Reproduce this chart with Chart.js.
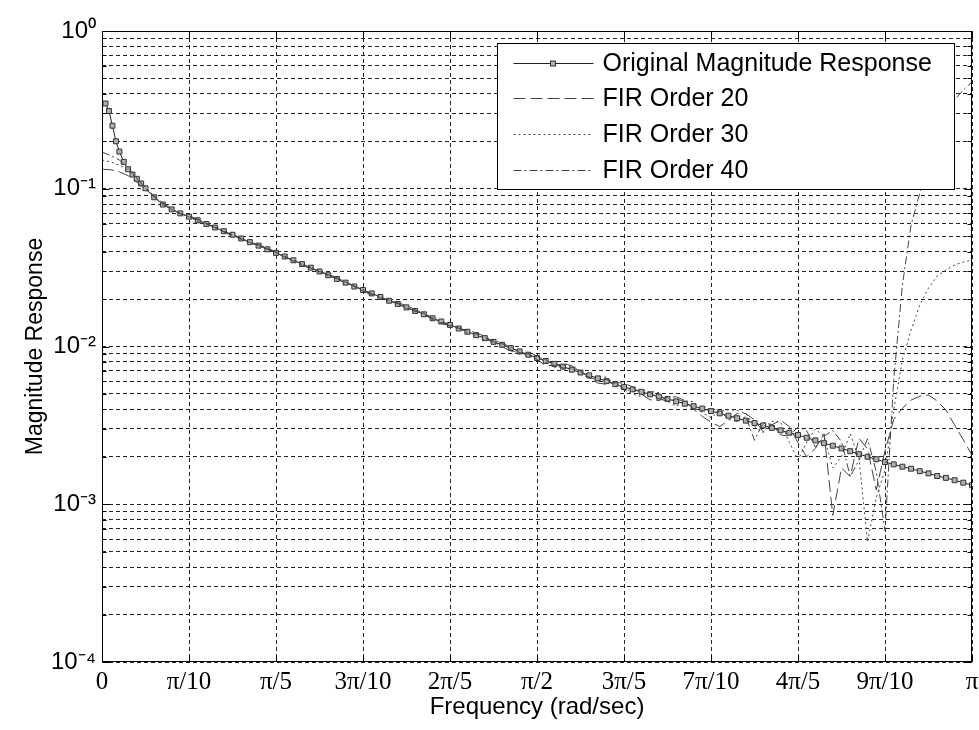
<!DOCTYPE html>
<html><head><meta charset="utf-8">
<script src="https://cdn.jsdelivr.net/npm/chart.js@4.4.1/dist/chart.umd.min.js"></script>
<style>html,body{margin:0;padding:0;background:#fff;}#wrap{width:979px;height:730px;}</style>
</head><body><div id="wrap"><canvas id="c" width="979" height="730"></canvas></div>
<script>
// ---------- data ----------
const seriesNames = ['Original Magnitude Response','FIR Order 20','FIR Order 30','FIR Order 40'];
const xTickFractions = [0,0.1,0.2,0.3,0.4,0.5,0.6,0.7,0.8,0.9,1.0]; // multiples of pi
const xTickLabels = ['0','\u03c0/10','\u03c0/5','3\u03c0/10','2\u03c0/5','\u03c0/2','3\u03c0/5','7\u03c0/10','4\u03c0/5','9\u03c0/10','\u03c0'];
const yMajorTicks = [1e-4,1e-3,1e-2,1e-1,1];
const yTickLabels = ['10\u207b\u2074','10\u207b\u00b3','10\u207b\u00b2','10\u207b\u00b9','10\u2070'];
const yMinorMultipliers = [2,3,4,5,6,7,8,9];
const xAxisTitle = 'Frequency (rad/sec)';
const yAxisTitle = 'Magnitude Response';

// frequencies in units of pi
const origFreq = [0.004,0.008,0.012,0.016,0.02,0.025,0.03,0.035,0.04,0.045,0.05,0.06,0.07,0.08,0.09,
0.10,0.11,0.12,0.13,0.14,0.15,0.16,0.17,0.18,0.19,
0.20,0.21,0.22,0.23,0.24,0.25,0.26,0.27,0.28,0.29,
0.30,0.31,0.32,0.33,0.34,0.35,0.36,0.37,0.38,0.39,
0.40,0.41,0.42,0.43,0.44,0.45,0.46,0.47,0.48,0.49,
0.50,0.51,0.52,0.53,0.54,0.55,0.56,0.57,0.58,0.59,
0.60,0.61,0.62,0.63,0.64,0.65,0.66,0.67,0.68,0.69,
0.70,0.71,0.72,0.73,0.74,0.75,0.76,0.77,0.78,0.79,
0.80,0.81,0.82,0.83,0.84,0.85,0.86,0.87,0.88,0.89,
0.90,0.91,0.92,0.93,0.94,0.95,0.96,0.97,0.98,0.99,1.00];
const origMag = [0.347,0.311,0.251,0.200,0.172,0.148,0.133,0.123,0.1156,0.108,0.1007,0.0883,0.0794,0.0740,0.0698,
0.0665,0.0631,0.0598,0.0568,0.0538,0.0511,0.0484,0.0459,0.0436,0.0413,
0.0392,0.0372,0.0352,0.0333,0.0316,0.0299,0.0283,0.0268,0.0254,0.0240,
0.0228,0.0217,0.0206,0.0195,0.0186,0.0177,0.0168,0.0160,0.0151,0.0144,
0.0137,0.0130,0.0124,0.0118,0.0113,0.0107,0.01025,0.00977,0.00931,0.00887,
0.00845,0.00810,0.00776,0.00745,0.00713,0.00684,0.00656,0.00628,0.00603,0.00577,
0.00553,0.00535,0.00516,0.00498,0.00481,0.00465,0.00449,0.00434,0.00418,0.00404,
0.00390,0.00377,0.00364,0.00351,0.00339,0.00327,0.00316,0.00305,0.00294,0.00284,
0.00275,0.00264,0.00254,0.00244,0.00235,0.00226,0.00217,0.00208,0.00200,0.00193,
0.00185,0.00179,0.00173,0.00168,0.00162,0.00157,0.00151,0.00147,0.00142,0.00137,0.00132];

const firFreq = [0.00,0.01,0.02,0.03,0.04,0.05,0.06,0.07,0.08,0.09,
0.10,0.11,0.12,0.13,0.14,0.15,0.16,0.17,0.18,0.19,
0.20,0.21,0.22,0.23,0.24,0.25,0.26,0.27,0.28,0.29,
0.30,0.31,0.32,0.33,0.34,0.35,0.36,0.37,0.38,0.39,
0.40,0.41,0.42,0.43,0.44,0.45,0.46,0.47,0.48,0.49,
0.50,0.51,0.52,0.53,0.54,0.55,0.56,0.57,0.58,0.59,
0.60,0.61,0.62,0.63,0.64,0.65,0.66,0.67,0.68,0.69,
0.70,0.71,0.72,0.73,0.74,0.75,0.76,0.77,0.78,0.79,
0.80,0.81,0.82,0.83,0.84,0.85,0.86,0.87,0.88,0.89,
0.90,0.91,0.92,0.93,0.94,0.95,0.96,0.97,0.98,0.99,1.00];

const fir20 = [0.133,0.132,0.128,0.121,0.110,0.0989,0.0899,0.0813,0.0745,0.0695,
0.0673,0.0643,0.0605,0.0568,0.0532,0.0502,0.0478,0.0459,0.0441,0.0421,
0.0397,0.0372,0.0347,0.0326,0.0312,0.0299,0.0287,0.0273,0.0257,0.0240,
0.0224,0.0212,0.0203,0.0195,0.0189,0.0182,0.0171,0.0160,0.0148,0.0140,
0.0135,0.0130,0.0127,0.0122,0.0116,0.0107,0.00997,0.00937,0.00910,0.00897,
0.00826,0.00756,0.00758,0.00780,0.00755,0.00700,0.00634,0.00586,0.00576,0.00590,
0.00586,0.00554,0.00498,0.00459,0.00454,0.00476,0.00481,0.00454,0.00399,0.00360,
0.00332,0.00310,0.00341,0.00376,0.00376,0.00342,0.00288,0.00319,0.00341,0.00311,
0.00245,0.00200,0.00226,0.00280,0.00085,0.00170,0.00150,0.00262,0.00224,0.00123,
0.00218,0.00344,0.00406,0.00458,0.00484,0.00493,0.00451,0.00396,0.00318,0.00256,0.00205];

const fir30 = [0.152,0.148,0.141,0.132,0.1156,0.102,0.0891,0.0800,0.0736,0.0698,
0.0662,0.0625,0.0596,0.0571,0.0543,0.0512,0.0481,0.0456,0.0437,0.0417,
0.0393,0.0369,0.0350,0.0335,0.0319,0.0298,0.0280,0.0268,0.0257,0.0242,
0.0226,0.0215,0.0208,0.0198,0.0185,0.0174,0.0169,0.0163,0.0152,0.0141,
0.0136,0.0133,0.0126,0.0115,0.0110,0.0109,0.01055,0.00957,0.00894,0.00905,
0.00879,0.00794,0.00737,0.00760,0.00749,0.00677,0.00623,0.00647,0.00639,0.00566,
0.00531,0.00499,0.00481,0.00518,0.00510,0.00451,0.00417,0.00451,0.00447,0.00380,
0.00355,0.00388,0.00397,0.00394,0.00376,0.00311,0.00284,0.00336,0.00332,0.00247,
0.00190,0.00248,0.00300,0.00268,0.00170,0.00200,0.00280,0.00195,0.00058,0.00110,
0.00165,0.00396,0.0082,0.0127,0.0183,0.0235,0.0280,0.0305,0.0329,0.0343,0.0353];

const fir40 = [0.171,0.162,0.152,0.136,0.117,0.101,0.0887,0.0794,0.0741,0.0695,
0.0660,0.0634,0.0601,0.0566,0.0536,0.0513,0.0486,0.0457,0.0434,0.0415,
0.0394,0.0370,0.0351,0.0335,0.0315,0.0297,0.0285,0.0269,0.0252,0.0241,
0.0230,0.0216,0.0204,0.0197,0.0187,0.0175,0.0167,0.0162,0.0151,0.0142,
0.0139,0.0131,0.0122,0.0120,0.0114,0.0105,0.01040,0.00999,0.00915,0.00870,
0.00863,0.00825,0.00758,0.00730,0.00730,0.00700,0.00640,0.00612,0.00618,0.00590,
0.00538,0.00520,0.00532,0.00510,0.00466,0.00450,0.00465,0.00447,0.00402,0.00392,
0.00405,0.00393,0.00345,0.00335,0.00360,0.00254,0.00330,0.00320,0.00275,0.00270,
0.00310,0.00292,0.00230,0.00270,0.00293,0.00250,0.00150,0.00190,0.00260,0.00160,
0.00068,0.00614,0.0245,0.0589,0.094,0.152,0.219,0.294,0.365,0.423,0.475];

// ---------- chart ----------
const PI = Math.PI;
const SANS = '"Liberation Sans", Arial, sans-serif';
const SERIF = '"Liberation Serif", "Times New Roman", serif';
function pts(freqs, vals){ return freqs.map((f,i)=>({x:f*PI, y:vals[i]})); }

const framePlugin = {
  id:'frame',
  afterDatasetsDraw(chart){
    const {ctx, chartArea:a, scales} = chart;
    ctx.save();
    ctx.setLineDash([]);
    ctx.strokeStyle = '#000';
    ctx.lineWidth = 1;
    const L = Math.round(a.left)+0.5, R = Math.round(a.right)-0.5, T = Math.round(a.top)+0.5, B = Math.round(a.bottom)-0.5;
    ctx.strokeRect(L, T, R-L, B-T);
    ctx.beginPath();
    scales.x.ticks.forEach(t=>{
      const px = Math.round(scales.x.getPixelForValue(t.value))+0.5;
      ctx.moveTo(px,B); ctx.lineTo(px,B-7);
      ctx.moveTo(px,T); ctx.lineTo(px,T+7);
    });
    scales.y.ticks.forEach(t=>{
      const py = Math.round(scales.y.getPixelForValue(t.value))+0.5;
      const len = t.major ? 7 : 4;
      ctx.moveTo(L,py); ctx.lineTo(L+len,py);
      ctx.moveTo(R,py); ctx.lineTo(R-len,py);
    });
    ctx.stroke();
    ctx.restore();
  }
};

const legendPlugin = {
  id:'boxLegend',
  afterDraw(chart){
    const {ctx, chartArea:a} = chart;
    const w = 457, h = 146;
    const x0 = Math.round(a.right - 18 - w)+0.5, y0 = Math.round(a.top + 12)+0.5;
    ctx.save();
    ctx.setLineDash([]);
    ctx.fillStyle = '#fff';
    ctx.fillRect(x0, y0, w, h);
    ctx.strokeStyle = '#000';
    ctx.lineWidth = 1;
    ctx.strokeRect(x0, y0, w, h);
    ctx.font = '25px ' + SANS;
    ctx.textBaseline = 'middle';
    chart.data.datasets.forEach((ds, i)=>{
      const yy = Math.round(y0 + 19 + i*35.7) + 0.5;
      ctx.save();
      ctx.strokeStyle = ds.borderColor;
      ctx.lineWidth = ds.borderWidth;
      ctx.setLineDash(ds.borderDash || []);
      ctx.beginPath(); ctx.moveTo(x0+16, yy); ctx.lineTo(x0+96, yy); ctx.stroke();
      ctx.setLineDash([]);
      if (ds.pointRadius > 0) {
        ctx.fillStyle = ds.pointBackgroundColor;
        ctx.strokeStyle = ds.pointBorderColor;
        ctx.fillRect(x0+53, yy-2.5, 5, 5);
        ctx.strokeRect(x0+53, yy-2.5, 5, 5);
      }
      ctx.restore();
      ctx.fillStyle = '#000';
      ctx.fillText(ds.label, x0 + 105, yy + 1);
    });
    ctx.restore();
  }
};

new Chart(document.getElementById('c'), {
  type:'scatter',
  data:{
    datasets:[
      {label:seriesNames[0], data:pts(origFreq, origMag), showLine:true, borderColor:'#222', borderWidth:1,
       pointStyle:'rect', pointRadius:3.5, pointBorderColor:'#333', pointBackgroundColor:'#b0b0b0', pointBorderWidth:1, order:1},
      {label:seriesNames[1], data:pts(firFreq, fir20), showLine:true, borderColor:'#444', borderWidth:1, borderDash:[12,5], pointRadius:0, order:0},
      {label:seriesNames[2], data:pts(firFreq, fir30), showLine:true, borderColor:'#444', borderWidth:1, borderDash:[2,3], pointRadius:0, order:0},
      {label:seriesNames[3], data:pts(firFreq, fir40), showLine:true, borderColor:'#444', borderWidth:1, borderDash:[8,3,2,3], pointRadius:0, order:0}
    ]
  },
  options:{
    responsive:false, animation:false, devicePixelRatio:1,
    layout:{padding:{top:31, right:7, left:0, bottom:0}},
    plugins:{legend:{display:false}, tooltip:{enabled:false}},
    elements:{line:{tension:0}},
    scales:{
      x:{
        type:'linear', min:0, max:PI,
        afterBuildTicks(s){ s.ticks = xTickFractions.map(f=>({value:f*PI})); },
        afterFit(s){ s.height = 68; s.paddingLeft = 0; s.paddingRight = 0; },
        ticks:{autoSkip:false, maxRotation:0, padding:5, color:'#000', font:{family:SERIF, size:25},
               callback:(v,i)=>xTickLabels[i]},
        grid:{color:'#222', lineWidth:1, drawTicks:false},
        border:{display:false, dash:[4,3]},
        title:{display:true, text:xAxisTitle, color:'#000', font:{family:SANS, size:24}, padding:{top:0, bottom:8}}
      },
      y:{
        type:'logarithmic', min:1e-4, max:1,
        afterBuildTicks(s){
          const t = [];
          yMajorTicks.forEach((m,i)=>{
            t.push({value:m, major:true});
            if (i < yMajorTicks.length-1) yMinorMultipliers.forEach(k=>t.push({value:k*m, major:false}));
          });
          s.ticks = t;
        },
        afterFit(s){ s.width = 102; s.paddingTop = 0; s.paddingBottom = 0; },
        ticks:{autoSkip:false, padding:6, color:'#000', font:{family:SANS, size:24},
               callback:(v)=>{ const i = yMajorTicks.findIndex(m=>Math.abs(m-v)/m < 1e-6); return i>=0 ? yTickLabels[i] : ''; }},
        grid:{color:'#222', lineWidth:1, drawTicks:false},
        border:{display:false, dash:[4,3]},
        title:{display:true, text:yAxisTitle, color:'#000', font:{family:SANS, size:23}, padding:{top:22, bottom:0}}
      }
    }
  },
  plugins:[framePlugin, legendPlugin]
});
</script>
</body></html>
